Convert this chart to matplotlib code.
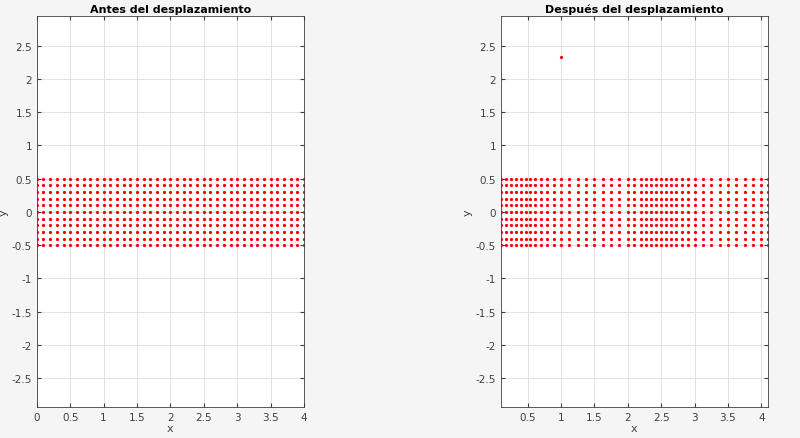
import numpy as np
import matplotlib
matplotlib.use("Agg")
import matplotlib.pyplot as plt

# original mesh nodes
x_before = np.round(np.arange(0, 4.01, 0.1), 2)
y_rows = np.round(np.arange(-0.5, 0.51, 0.1), 2)

# displaced x coordinates of each column
x_after = [0.11, 0.185, 0.26, 0.33, 0.40, 0.47, 0.54, 0.615, 0.70, 0.79,
           0.89, 1.0, 1.12, 1.25, 1.375, 1.5, 1.63, 1.75, 1.875, 2.0,
           2.1, 2.2, 2.275, 2.35, 2.425, 2.5, 2.575, 2.65, 2.725, 2.81,
           2.9, 3.0, 3.125, 3.25, 3.375, 3.5, 3.625, 3.75, 3.875, 4.0, 4.1]
outlier = (1.0, 2.33)

titles = ["Antes del desplazamiento", "Después del desplazamiento"]

fig = plt.figure(figsize=(8, 4.39), dpi=100, facecolor="#f5f5f5")
axes = [fig.add_axes([0.046, 0.071, 0.334, 0.891]),
        fig.add_axes([0.626, 0.071, 0.334, 0.891])]

for i, ax in enumerate(axes):
    xs = x_before if i == 0 else np.array(x_after)
    X, Y = np.meshgrid(xs, y_rows)
    ax.plot(X.ravel(), Y.ravel(), ".", color="red", markersize=2.6)
    if i == 1:
        ax.plot([outlier[0]], [outlier[1]], ".", color="red", markersize=2.6)
        ax.set_xlim(0.1, 4.1)
        ax.set_xticks(np.arange(0.5, 4.01, 0.5))
    else:
        ax.set_xlim(0, 4)
        ax.set_xticks(np.arange(0, 4.01, 0.5))
    ax.set_ylim(-2.93, 2.95)
    ax.set_yticks(np.arange(-2.5, 2.51, 0.5))
    ax.xaxis.set_major_formatter(matplotlib.ticker.FormatStrFormatter("%g"))
    ax.yaxis.set_major_formatter(matplotlib.ticker.FormatStrFormatter("%g"))
    ax.grid(True, color="#e2e2e2", linewidth=0.7)
    ax.set_axisbelow(True)
    ax.tick_params(labelsize=7.5, colors="#404040", length=3, direction="in",
                   top=True, right=True)
    for s in ax.spines.values():
        s.set_color("#404040")
        s.set_linewidth(0.6)
    ax.set_xlabel("x", fontsize=8, color="#404040", labelpad=1)
    ax.set_ylabel("y", fontsize=8, color="#404040", labelpad=2)
    ax.set_title(titles[i], fontsize=8, fontweight="bold", pad=3)

fig.savefig("out.png", dpi=100, facecolor=fig.get_facecolor())
